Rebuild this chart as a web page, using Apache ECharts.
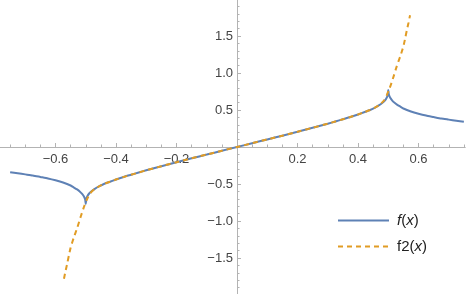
<!DOCTYPE html>
<html>
<head>
<meta charset="utf-8">
<script src="https://cdn.jsdelivr.net/npm/echarts@6/dist/echarts.min.js"></script>
<style>html,body{margin:0;padding:0;background:#fff}#c{width:474px;height:294px}</style>
</head>
<body>
<div id="c"></div>
<script>
// f(x) samples
const fX = [-0.75,-0.725,-0.70,-0.675,-0.65,-0.625,-0.60,-0.575,-0.55,-0.54,-0.53,-0.52,-0.512,-0.506,-0.502,-0.5,-0.498,-0.494,-0.488,-0.48,-0.47,-0.455,-0.44,-0.42,-0.40,-0.375,-0.35,-0.325,-0.30,-0.25,-0.20,-0.15,-0.10,-0.05,0,
  0.05,0.10,0.15,0.20,0.25,0.30,0.325,0.35,0.375,0.40,0.42,0.44,0.455,0.47,0.48,0.488,0.494,0.498,0.5,0.502,0.506,0.512,0.52,0.53,0.54,0.55,0.575,0.60,0.625,0.65,0.675,0.70,0.725,0.75];
const fY = [-0.34,-0.355,-0.37,-0.385,-0.405,-0.425,-0.45,-0.48,-0.52,-0.545,-0.57,-0.60,-0.635,-0.67,-0.71,-0.77,-0.70,-0.66,-0.625,-0.595,-0.565,-0.53,-0.50,-0.47,-0.44,-0.405,-0.375,-0.345,-0.315,-0.26,-0.205,-0.153,-0.102,-0.051,0,
  0.051,0.102,0.153,0.205,0.26,0.315,0.345,0.375,0.405,0.44,0.47,0.50,0.53,0.565,0.595,0.625,0.66,0.70,0.77,0.71,0.67,0.635,0.60,0.57,0.545,0.52,0.48,0.45,0.425,0.405,0.385,0.37,0.355,0.34];
// f2(x) samples
const f2X = [-0.572,-0.567,-0.561,-0.556,-0.55,-0.54,-0.528,-0.515,-0.505,-0.495,-0.485,-0.47,-0.455,-0.44,-0.42,-0.40,-0.375,-0.35,-0.325,-0.30,-0.25,-0.20,-0.15,-0.10,-0.05,0,
  0.05,0.10,0.15,0.20,0.25,0.30,0.325,0.35,0.375,0.40,0.42,0.44,0.455,0.47,0.485,0.495,0.505,0.515,0.528,0.54,0.55,0.556,0.561,0.567,0.572];
const f2Y = [-1.78,-1.68,-1.57,-1.47,-1.36,-1.23,-1.09,-0.92,-0.80,-0.70,-0.625,-0.565,-0.53,-0.50,-0.47,-0.44,-0.405,-0.375,-0.345,-0.315,-0.26,-0.205,-0.153,-0.102,-0.051,0,
  0.051,0.102,0.153,0.205,0.26,0.315,0.345,0.375,0.405,0.44,0.47,0.50,0.53,0.565,0.625,0.70,0.80,0.92,1.09,1.23,1.36,1.47,1.57,1.68,1.78];
// ticks
const xMajor = [-0.6,-0.4,-0.2,0.2,0.4,0.6];
const xMinor = [-0.75,-0.7,-0.65,-0.55,-0.5,-0.45,-0.35,-0.3,-0.25,-0.15,-0.1,-0.05,0.05,0.1,0.15,0.25,0.3,0.35,0.45,0.5,0.55,0.65,0.7,0.75];
const yMajor = [-1.5,-1.0,-0.5,0.5,1.0,1.5];
const yMinor = [-1.9,-1.8,-1.7,-1.6,-1.4,-1.3,-1.2,-1.1,-0.9,-0.8,-0.7,-0.6,-0.4,-0.3,-0.2,-0.1,0.1,0.2,0.3,0.4,0.6,0.7,0.8,0.9,1.1,1.2,1.3,1.4,1.6,1.7,1.8,1.9];
const seriesNames = ['f(x)','f2(x)'];

const AX = '#b3b3b3';
const FONT = "'Liberation Sans', Arial, sans-serif";
const fmt = v => (v < 0 ? '\u2212' : '') + Math.abs(v).toFixed(1);
const X0 = -0.7835, X1 = 0.7537, Y0 = -1.987, Y1 = 1.987;
const GW = 465, GH = 294;
// shift the labelled axes from the grid edge to the value 0 of the other axis
const xAxisShift = -GH * (0 - Y0) / (Y1 - Y0);
const yAxisShift = -GW * (0 - X0) / (X1 - X0);

// kind: 'major' | 'minor' | 'data'
function xAx(kind, gi) {
  return {
    type: 'value', min: X0, max: X1, gridIndex: gi, position: 'bottom', show: kind !== 'data',
    offset: kind === 'major' ? xAxisShift : 0,
    axisLine: { show: kind !== 'data', onZero: kind !== 'major', lineStyle: { color: AX, width: 1 } },
    axisTick: { show: kind !== 'data', inside: true, length: kind === 'major' ? 4 : 2.5, customValues: kind === 'major' ? xMajor : xMinor, lineStyle: { color: AX } },
    axisLabel: { show: kind === 'major', customValues: xMajor, formatter: fmt, margin: 6, color: '#444', fontSize: 13, fontFamily: FONT },
    splitLine: { show: false }
  };
}
function yAx(kind, gi) {
  return {
    type: 'value', min: Y0, max: Y1, gridIndex: gi, position: 'left', show: kind !== 'data',
    offset: kind === 'major' ? yAxisShift : 0,
    axisLine: { show: kind !== 'data', onZero: kind !== 'major', lineStyle: { color: AX, width: 1 } },
    axisTick: { show: kind !== 'data', inside: true, length: kind === 'major' ? 4 : 2.5, customValues: kind === 'major' ? yMajor : yMinor, lineStyle: { color: AX } },
    axisLabel: { show: kind === 'major', customValues: yMajor, formatter: fmt, margin: 4, color: '#444', fontSize: 13, fontFamily: FONT },
    splitLine: { show: false }
  };
}
const G = { left: 0, top: 0, width: GW, height: GH, containLabel: false, outerBoundsMode: 'none' };

const chart = echarts.init(document.getElementById('c'), null, { renderer: 'canvas' });
chart.setOption({
  animation: false,
  backgroundColor: '#fff',
  grid: [Object.assign({}, G), Object.assign({}, G), Object.assign({}, G)],
  xAxis: [xAx('major', 0), xAx('minor', 1), xAx('data', 2)],
  yAxis: [yAx('major', 0), yAx('minor', 1), yAx('data', 2)],
  legend: {
    orient: 'vertical', left: 332, top: 208,
    itemWidth: 51, itemHeight: 14, itemGap: 11,
    data: seriesNames,
    itemStyle: { opacity: 0 },
    formatter: n => n === 'f(x)' ? '{i|f}({i|x})' : 'f2({i|x})',
    textStyle: { fontSize: 15, color: '#222', fontFamily: FONT, padding: [0, 0, 0, 3],
      rich: { i: { fontStyle: 'italic', fontSize: 15, fontFamily: FONT, color: '#222' } } }
  },
  series: [
    { name: seriesNames[0], type: 'line', xAxisIndex: 2, yAxisIndex: 2, showSymbol: false, symbol: 'none',
      smooth: 0.2, data: fX.map((x, i) => [x, fY[i]]),
      lineStyle: { color: '#5e81b5', width: 2 }, itemStyle: { color: '#5e81b5' } },
    { name: seriesNames[1], type: 'line', xAxisIndex: 2, yAxisIndex: 2, showSymbol: false, symbol: 'none',
      smooth: 0.2, data: f2X.map((x, i) => [x, f2Y[i]]),
      lineStyle: { color: '#e19c24', width: 2, type: [5, 4] }, itemStyle: { color: '#e19c24' } }
  ]
});
</script>
</body>
</html>
